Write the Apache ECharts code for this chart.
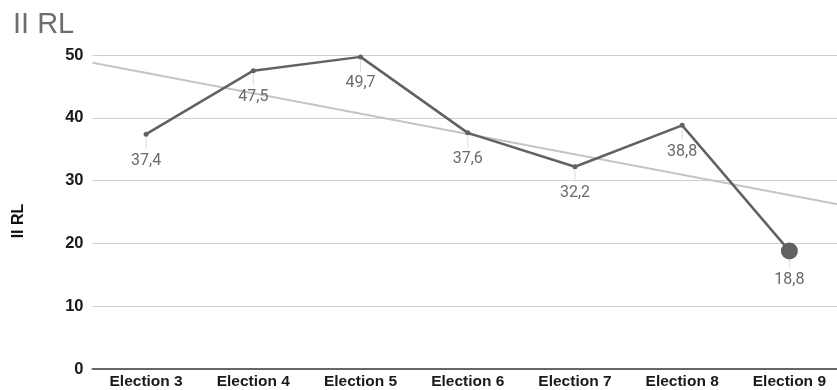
<!DOCTYPE html>
<html>
<head>
<meta charset="utf-8">
<script src="https://cdn.jsdelivr.net/npm/echarts@6/dist/echarts.min.js"></script>
<style>
  html, body { margin: 0; padding: 0; background: #fff; overflow: hidden; }
  #chart { width: 843px; height: 390px; }
</style>
</head>
<body>
<div id="chart"></div>
<script>
const categories = ['Election 3', 'Election 4', 'Election 5', 'Election 6', 'Election 7', 'Election 8', 'Election 9'];
const values = [37.4, 47.5, 49.7, 37.6, 32.2, 38.8, 18.8];
const yTicks = { min: 0, max: 50, interval: 10 };
const seriesName = 'II RL';

// Least-squares trend across the category positions
function trend(vals) {
  const n = vals.length;
  const mx = (n - 1) / 2;
  const my = vals.reduce((a, b) => a + b, 0) / n;
  let sxy = 0, sxx = 0;
  vals.forEach((v, i) => { sxy += (i - mx) * (v - my); sxx += (i - mx) * (i - mx); });
  const k = sxy / sxx;
  const f = x => my + k * (x - mx);
  return [[-0.5, f(-0.5)], [n - 0.5, f(n - 0.5)]];
}

const last = values.length - 1;
const lineData = values.map((v, i) => i === last
  ? { value: v, symbolSize: 17, label: { distance: 13 } }
  : v);

const axisFont = 'Liberation Sans, Arial, sans-serif';

const chart = echarts.init(document.getElementById('chart'));
chart.setOption({
  animation: false,
  title: {
    text: seriesName,
    left: 8, top: 5,
    textStyle: { fontFamily: axisFont, fontSize: 29, fontWeight: 'normal', color: '#6e6e6e' }
  },
  grid: { left: 92.5, right: 0, top: 55, bottom: 21, containLabel: false },
  xAxis: [{
    type: 'category',
    data: categories,
    boundaryGap: true,
    axisLine: { lineStyle: { color: '#666', width: 2 } },
    axisTick: { show: false },
    axisLabel: { margin: 5, fontFamily: axisFont, fontSize: 15.5, fontWeight: 'bold', color: '#1a1a1a' }
  }, {
    type: 'value',
    min: -0.5, max: values.length - 0.5,
    show: false
  }],
  yAxis: {
    type: 'value',
    min: yTicks.min, max: yTicks.max, interval: yTicks.interval,
    name: seriesName,
    nameLocation: 'middle',
    nameGap: 66,
    nameRotate: 90,
    nameTextStyle: { fontFamily: axisFont, fontSize: 16, fontWeight: 'bold', color: '#111', padding: [0, 0, 0, -18] },
    axisLine: { show: false },
    axisTick: { show: false },
    axisLabel: { margin: 9, fontFamily: axisFont, fontSize: 16.5, fontWeight: 'bold', color: '#1a1a1a' },
    splitLine: { lineStyle: { color: '#cfcfcf', width: 1.2 } }
  },
  series: [{
    type: 'line',
    xAxisIndex: 1,
    data: trend(values),
    symbol: 'none',
    silent: true,
    lineStyle: { color: '#c4c4c4', width: 2 },
    z: 1
  }, {
    type: 'custom',
    xAxisIndex: 0,
    data: values.map((v, i) => [i, v]),
    renderItem: function (params, api) {
      const p = api.coord([api.value(0), api.value(1)]);
      const big = params.dataIndex === last;
      return {
        type: 'line',
        shape: { x1: p[0], y1: p[1] + (big ? 9 : 3), x2: p[0], y2: p[1] + (big ? 17 : 15) },
        style: { stroke: '#dcdcdc', lineWidth: 1 }
      };
    },
    silent: true,
    z: 2
  }, {
    type: 'line',
    name: seriesName,
    data: lineData,
    symbol: 'circle',
    symbolSize: 5,
    itemStyle: { color: '#626262' },
    lineStyle: { color: '#626262', width: 2.5 },
    label: {
      show: true,
      position: 'bottom',
      distance: 16,
      fontFamily: 'Roboto, Liberation Sans, sans-serif',
      fontSize: 16,
      color: '#6a6a6a',
      formatter: p => String(p.value).replace('.', ',')
    },
    z: 3
  }]
});
</script>
</body>
</html>
